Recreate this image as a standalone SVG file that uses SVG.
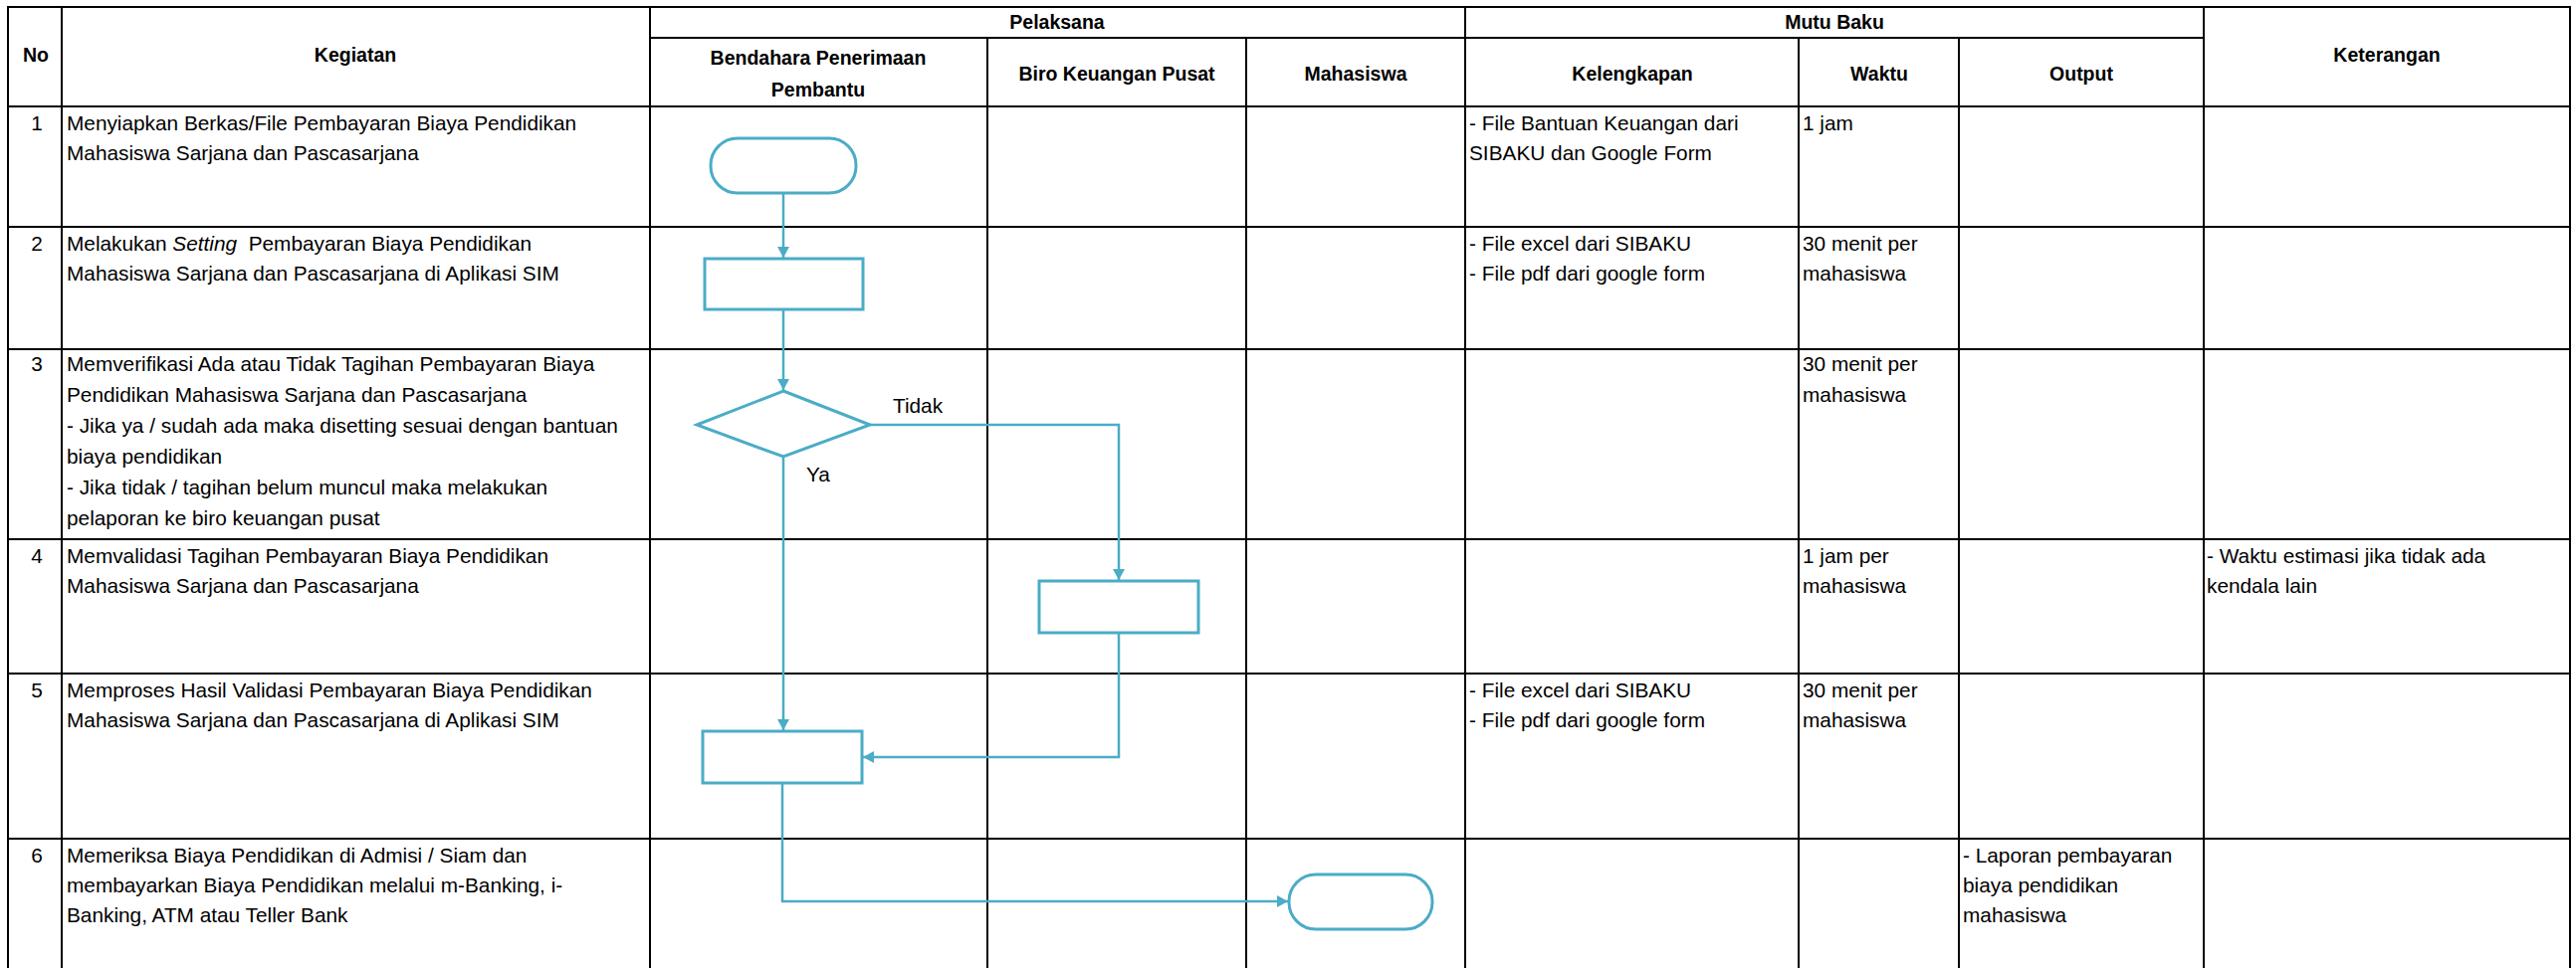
<svg xmlns="http://www.w3.org/2000/svg" width="2588" height="973" viewBox="0 0 2588 973">
<defs>
<style>
.g{stroke:#000;stroke-width:2;fill:none}
.t{font-family:"Liberation Sans",Arial,sans-serif;font-size:20.8px;fill:#000}
.h{font-family:"Liberation Sans",Arial,sans-serif;font-size:19.5px;font-weight:bold;fill:#000;text-anchor:middle}
.c{text-anchor:middle}
.s{fill:#fff;stroke:#4BACC6;stroke-width:3}
.k{fill:none;stroke:#4BACC6;stroke-width:2.5}
</style>
<marker id="ar" markerUnits="userSpaceOnUse" markerWidth="12" markerHeight="12" refX="11" refY="6" orient="auto">
<path d="M0,0 L11,6 L0,12 z" fill="#4BACC6"/>
</marker>
</defs>
<rect x="0" y="0" width="2588" height="973" fill="#fff"/>
<g id="grid" class="g">
<line x1="7" y1="7" x2="2583" y2="7"/>
<line x1="653" y1="38" x2="2214" y2="38"/>
<line x1="7" y1="107" x2="2583" y2="107"/>
<line x1="7" y1="228" x2="2583" y2="228"/>
<line x1="7" y1="351" x2="2583" y2="351"/>
<line x1="7" y1="542" x2="2583" y2="542"/>
<line x1="7" y1="677" x2="2583" y2="677"/>
<line x1="7" y1="843" x2="2583" y2="843"/>
<line x1="8" y1="6" x2="8" y2="973"/>
<line x1="62" y1="7" x2="62" y2="973"/>
<line x1="653" y1="7" x2="653" y2="973"/>
<line x1="992" y1="38" x2="992" y2="973"/>
<line x1="1252" y1="38" x2="1252" y2="973"/>
<line x1="1472" y1="7" x2="1472" y2="973"/>
<line x1="1807" y1="38" x2="1807" y2="973"/>
<line x1="1968" y1="38" x2="1968" y2="973"/>
<line x1="2214" y1="7" x2="2214" y2="973"/>
<line x1="2582" y1="6" x2="2582" y2="973"/>
</g>
<g id="headers">
<text class="h" x="36" y="62">No</text>
<text class="h" x="357" y="62">Kegiatan</text>
<text class="h" x="1062" y="29">Pelaksana</text>
<text class="h" x="1843" y="29">Mutu Baku</text>
<text class="h" x="822" y="65">Bendahara Penerimaan</text>
<text class="h" x="822" y="97">Pembantu</text>
<text class="h" x="1122" y="81">Biro Keuangan Pusat</text>
<text class="h" x="1362" y="81">Mahasiswa</text>
<text class="h" x="1640" y="81">Kelengkapan</text>
<text class="h" x="1888" y="81">Waktu</text>
<text class="h" x="2091" y="81">Output</text>
<text class="h" x="2398" y="62">Keterangan</text>
</g>
<g id="rows" class="t">
<text class="t c" x="37" y="131">1</text>
<text class="t" x="67" y="131">Menyiapkan Berkas/File Pembayaran Biaya Pendidikan</text>
<text class="t" x="67" y="161">Mahasiswa Sarjana dan Pascasarjana</text>
<text class="t" x="1476" y="131">- File Bantuan Keuangan dari</text>
<text class="t" x="1476" y="161">SIBAKU dan Google Form</text>
<text class="t" x="1811" y="131">1 jam</text>

<text class="t c" x="37" y="252">2</text>
<text class="t" x="67" y="252" xml:space="preserve">Melakukan <tspan font-style="italic">Setting</tspan>  Pembayaran Biaya Pendidikan</text>
<text class="t" x="67" y="282">Mahasiswa Sarjana dan Pascasarjana di Aplikasi SIM</text>
<text class="t" x="1476" y="252">- File excel dari SIBAKU</text>
<text class="t" x="1476" y="282">- File pdf dari google form</text>
<text class="t" x="1811" y="252">30 menit per</text>
<text class="t" x="1811" y="282">mahasiswa</text>

<text class="t c" x="37" y="373">3</text>
<text class="t" x="67" y="373">Memverifikasi Ada atau Tidak Tagihan Pembayaran Biaya</text>
<text class="t" x="67" y="404">Pendidikan Mahasiswa Sarjana dan Pascasarjana</text>
<text class="t" x="67" y="435">- Jika ya / sudah ada maka disetting sesuai dengan bantuan</text>
<text class="t" x="67" y="466">biaya pendidikan</text>
<text class="t" x="67" y="497">- Jika tidak / tagihan belum muncul maka melakukan</text>
<text class="t" x="67" y="528">pelaporan ke biro keuangan pusat</text>
<text class="t" x="1811" y="373">30 menit per</text>
<text class="t" x="1811" y="404">mahasiswa</text>

<text class="t c" x="37" y="566">4</text>
<text class="t" x="67" y="566">Memvalidasi Tagihan Pembayaran Biaya Pendidikan</text>
<text class="t" x="67" y="596">Mahasiswa Sarjana dan Pascasarjana</text>
<text class="t" x="1811" y="566">1 jam per</text>
<text class="t" x="1811" y="596">mahasiswa</text>
<text class="t" x="2217" y="566">- Waktu estimasi jika tidak ada</text>
<text class="t" x="2217" y="596">kendala lain</text>

<text class="t c" x="37" y="701">5</text>
<text class="t" x="67" y="701">Memproses Hasil Validasi Pembayaran Biaya Pendidikan</text>
<text class="t" x="67" y="731">Mahasiswa Sarjana dan Pascasarjana di Aplikasi SIM</text>
<text class="t" x="1476" y="701">- File excel dari SIBAKU</text>
<text class="t" x="1476" y="731">- File pdf dari google form</text>
<text class="t" x="1811" y="701">30 menit per</text>
<text class="t" x="1811" y="731">mahasiswa</text>

<text class="t c" x="37" y="867">6</text>
<text class="t" x="67" y="867">Memeriksa Biaya Pendidikan di Admisi / Siam dan</text>
<text class="t" x="67" y="897">membayarkan Biaya Pendidikan melalui m-Banking, i-</text>
<text class="t" x="67" y="927">Banking, ATM atau Teller Bank</text>
<text class="t" x="1972" y="867">- Laporan pembayaran</text>
<text class="t" x="1972" y="897">biaya pendidikan</text>
<text class="t" x="1972" y="927">mahasiswa</text>
</g>
<g id="connectors">
<path class="k" d="M787,194 L787,259" marker-end="url(#ar)"/>
<path class="k" d="M787,311 L787,392" marker-end="url(#ar)"/>
<path class="k" d="M874,427 L1124,427 L1124,583" marker-end="url(#ar)"/>
<path class="k" d="M787,459 L787,734" marker-end="url(#ar)"/>
<path class="k" d="M1124,636 L1124,761 L867,761" marker-end="url(#ar)"/>
<path class="k" d="M786,787 L786,906 L1294,906" marker-end="url(#ar)"/>
<text class="t" x="897" y="415">Tidak</text>
<text class="t" x="810" y="484">Ya</text>
</g>
<g id="n1"><rect class="s" x="714" y="139" width="146" height="55" rx="27" ry="27"/></g>
<g id="n2"><rect class="s" x="708" y="260" width="159" height="51"/></g>
<g id="n3"><polygon class="s" points="787,393 874,427 787,459 700,427"/></g>
<g id="n4"><rect class="s" x="1044" y="584" width="160" height="52"/></g>
<g id="n5"><rect class="s" x="706" y="735" width="160" height="52"/></g>
<g id="n6"><rect class="s" x="1295" y="879" width="144" height="55" rx="27" ry="27"/></g>
</svg>
